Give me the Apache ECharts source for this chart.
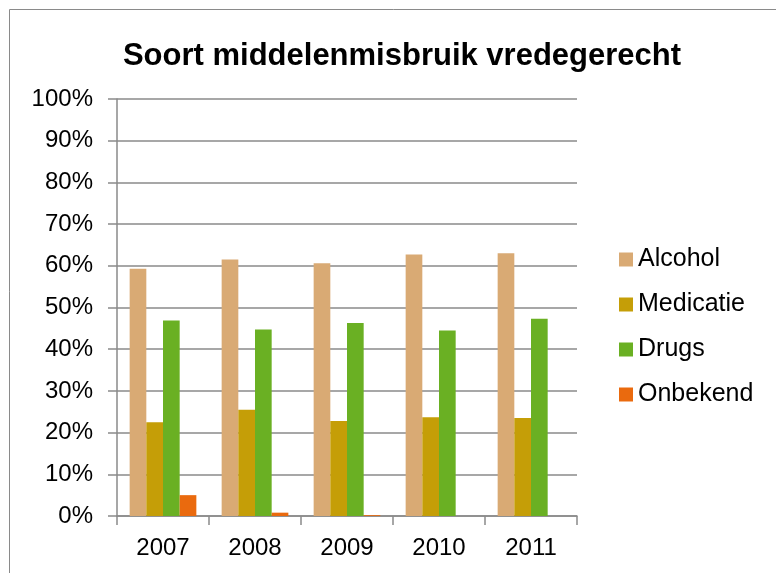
<!DOCTYPE html>
<html>
<head>
<meta charset="utf-8">
<script src="https://cdn.jsdelivr.net/npm/echarts@6/dist/echarts.min.js"></script>
<style>
html,body{margin:0;padding:0;background:#fff;}
#chart{width:776px;height:573px;}
</style>
</head>
<body>
<div id="chart"></div>
<script>
const categories = ['2007', '2008', '2009', '2010', '2011'];
const alcohol   = [59.3, 61.5, 60.6, 62.7, 63.0];
const medicatie = [22.5, 25.5, 22.8, 23.7, 23.5];
const drugs     = [46.9, 44.7, 46.3, 44.5, 47.3];
const onbekend  = [5.0, 0.8, 0.2, 0, 0];
const seriesNames = ['Alcohol', 'Medicatie', 'Drugs', 'Onbekend'];
const colors = ['#D9AA74', '#C59E07', '#6AB023', '#EA6A0E'];

const FONT = '"Liberation Sans", Arial, sans-serif';
const LINE = '#8a8a8a';
const chart = echarts.init(document.getElementById('chart'), null, {renderer: 'canvas'});
const data = [alcohol, medicatie, drugs, onbekend];

chart.setOption({
  animation: false,
  backgroundColor: '#fff',
  color: colors,
  title: {
    text: 'Soort middelenmisbruik vredegerecht',
    left: 397, top: 36, textAlign: 'center',
    textStyle: {fontFamily: FONT, fontSize: 31, fontWeight: 'bold', color: '#000', lineHeight: 31}
  },
  graphic: [{
    type: 'rect', silent: true,
    shape: {x: 9.5, y: 9.5, width: 820, height: 620},
    style: {fill: 'none', stroke: LINE, lineWidth: 1}
  }],
  legend: {
    orient: 'vertical',
    left: 614, top: 242,
    itemWidth: 14, itemHeight: 14, itemGap: 20,
    icon: 'rect',
    textStyle: {fontFamily: FONT, fontSize: 25, color: '#000', lineHeight: 25},
    data: seriesNames
  },
  grid: {left: 117, right: 199, top: 99, bottom: 57, containLabel: false},
  xAxis: {
    type: 'category',
    data: categories,
    axisLine: {lineStyle: {color: LINE, width: 1.5}},
    axisTick: {show: true, length: 9, alignWithLabel: false, lineStyle: {color: LINE, width: 1.5}},
    axisLabel: {fontFamily: FONT, fontSize: 24, color: '#000', margin: 20}
  },
  yAxis: {
    type: 'value',
    min: 0, max: 100, interval: 10,
    axisLine: {show: true, lineStyle: {color: LINE, width: 1.5}},
    axisTick: {show: true, length: 9, lineStyle: {color: LINE, width: 1.5}},
    axisLabel: {fontFamily: FONT, fontSize: 24, color: '#000', margin: 24, formatter: '{value}%'},
    splitLine: {lineStyle: {color: LINE, width: 1.5}}
  },
  series: seriesNames.map((n, i) => ({
    name: n,
    type: 'bar',
    data: data[i],
    barGap: '0%',
    barCategoryGap: '27.5%',
    itemStyle: {color: colors[i]}
  }))
});
</script>
</body>
</html>
